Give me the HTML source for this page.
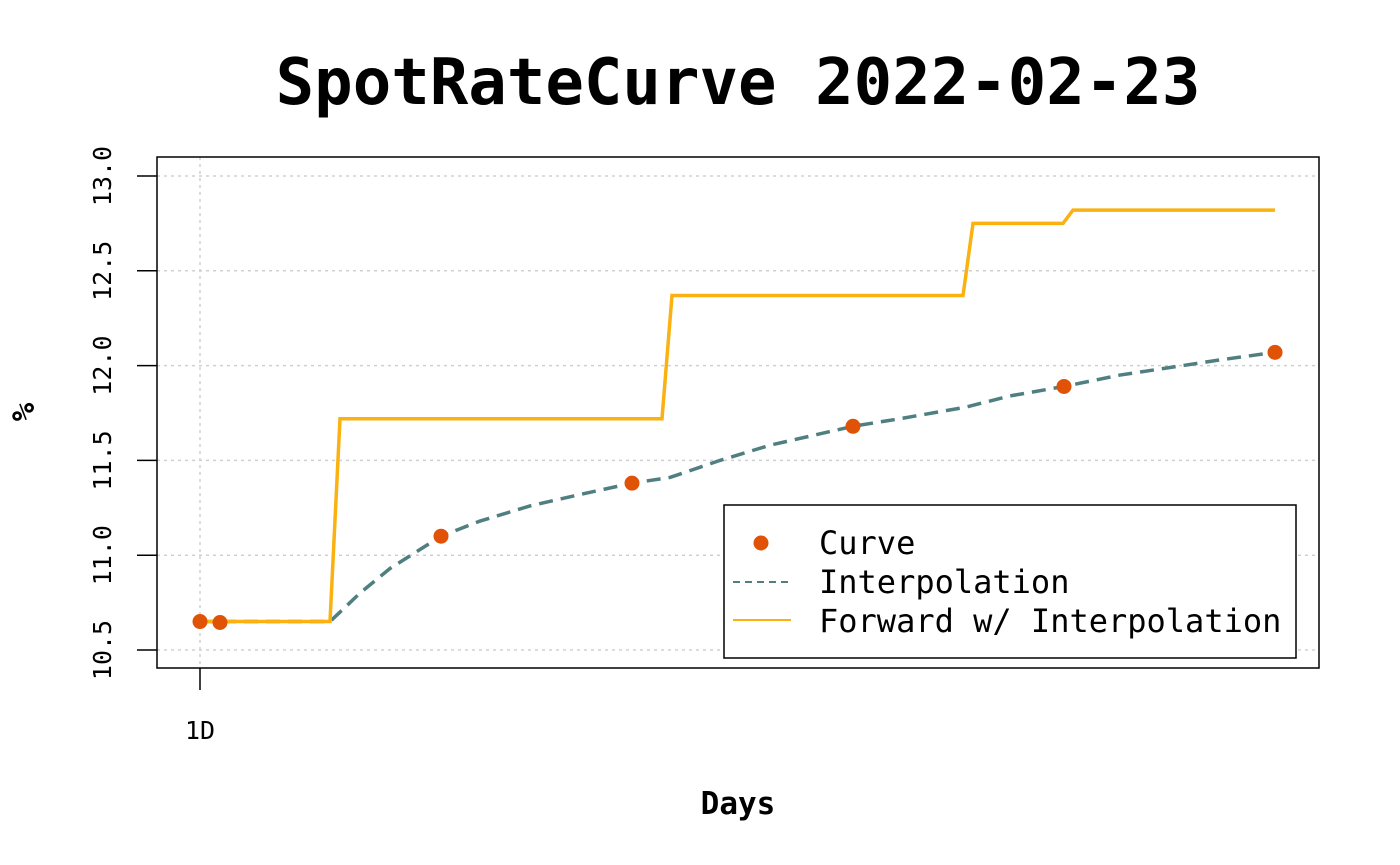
<!DOCTYPE html>
<html><head><meta charset="utf-8">
<style>
body{margin:0;background:#fff;}
svg{display:block;font-family:"DejaVu Sans Mono","Liberation Mono",monospace;}
</style></head>
<body>
<svg id="chart" width="1400" height="865" viewBox="0 0 1400 865">
<text x="738" y="104" text-anchor="middle" font-size="64" font-weight="bold">SpotRateCurve 2022-02-23</text>
<g id="grid"></g>
<g id="series"></g>
<rect x="157" y="157" width="1162" height="511" fill="none" stroke="#000" stroke-width="1.5"/>
<g id="axes"></g>
<text x="738" y="814" text-anchor="middle" font-size="31" font-weight="bold">Days</text>
<text transform="translate(34,412) rotate(-90)" text-anchor="middle" font-size="31" font-weight="bold">%</text>
<g>
<rect x="724" y="505" width="572" height="153" fill="#fff" stroke="#000" stroke-width="1.5"/>
<circle cx="761" cy="543" r="7.5" fill="#e05206"/>
<text x="819" y="554" font-size="32">Curve</text>
<line x1="733" y1="582" x2="791" y2="582" stroke="#4f7f80" stroke-width="2" stroke-dasharray="7,5"/>
<text x="819" y="593" font-size="32">Interpolation</text>
<line x1="733" y1="620" x2="791" y2="620" stroke="#fbb10f" stroke-width="2"/>
<text x="819" y="632" font-size="32">Forward w/ Interpolation</text>
</g>
</svg>
<script>
const curveDays=[1,21,242,433,654,865,1076];
const curveRates=[10.65,10.645,11.10,11.38,11.68,11.89,12.07];
const interpDays=[1,131,161,191,221,242,281,331,381,433,471,521,571,621,654,701,766,811,865,921,971,1021,1076];
const interpRates=[10.65,10.65,10.80,10.93,11.03,11.10,11.18,11.26,11.32,11.38,11.41,11.50,11.58,11.64,11.68,11.72,11.78,11.84,11.89,11.95,11.99,12.03,12.07];
const fwdDays=[1,131,141,463,473,764,774,864,874,1076];
const fwdRates=[10.65,10.65,11.72,11.72,12.37,12.37,12.75,12.75,12.82,12.82];
const yTicks=[10.5,11.0,11.5,12.0,12.5,13.0];
const yTickLabels=["10.5","11.0","11.5","12.0","12.5","13.0"];
const xTicks=[1];
const xTickLabels=["1D"];
const NS="http://www.w3.org/2000/svg";
const xs=d=>200+(d-1);
const ys=v=>650-(v-10.5)*(474/2.5);
function mk(tag,attrs,parent){const e=document.createElementNS(NS,tag);for(const k in attrs)e.setAttribute(k,attrs[k]);document.getElementById(parent).appendChild(e);return e;}
yTicks.forEach((v,i)=>{
 const g=mk('line',{x1:157,x2:1319,y1:ys(v),y2:ys(v),stroke:'#d0d0d0','stroke-width':1.5,'stroke-dasharray':'3,4'},'grid');
 
 
 const t=mk('line',{x1:137,x2:157,y1:ys(v),y2:ys(v),stroke:'#000','stroke-width':1.5},'axes');
 
 
 const l=mk('text',{transform:`translate(111,${ys(v)}) rotate(-90)`,'text-anchor':'middle','font-size':25},'axes');
 l.textContent=yTickLabels[i];
 
 
});
xTicks.forEach((d,i)=>{
 const g=mk('line',{x1:xs(d),x2:xs(d),y1:157,y2:668,stroke:'#d0d0d0','stroke-width':1.5,'stroke-dasharray':'3,4'},'grid');
 
 
 const t=mk('line',{x1:xs(d),x2:xs(d),y1:668,y2:690,stroke:'#000','stroke-width':1.5},'axes');
 
 
 const l=mk('text',{x:xs(d),y:739,'text-anchor':'middle','font-size':25},'axes');
 l.textContent=xTickLabels[i];
 
 
});
const ip=mk('polyline',{points:interpDays.map((d,i)=>xs(d)+','+ys(interpRates[i])).join(' '),fill:'none',stroke:'#4f7f80','stroke-width':3.5,'stroke-dasharray':'14,8'},'series');


const fw=mk('polyline',{points:fwdDays.map((d,i)=>xs(d)+','+ys(fwdRates[i])).join(' '),fill:'none',stroke:'#fbb10f','stroke-width':3.5},'series');


curveDays.forEach((d,i)=>{
 const c=mk('circle',{cx:xs(d),cy:ys(curveRates[i]),r:7.5,fill:'#e05206'},'series');
 
 
});
</script>
</body></html>
